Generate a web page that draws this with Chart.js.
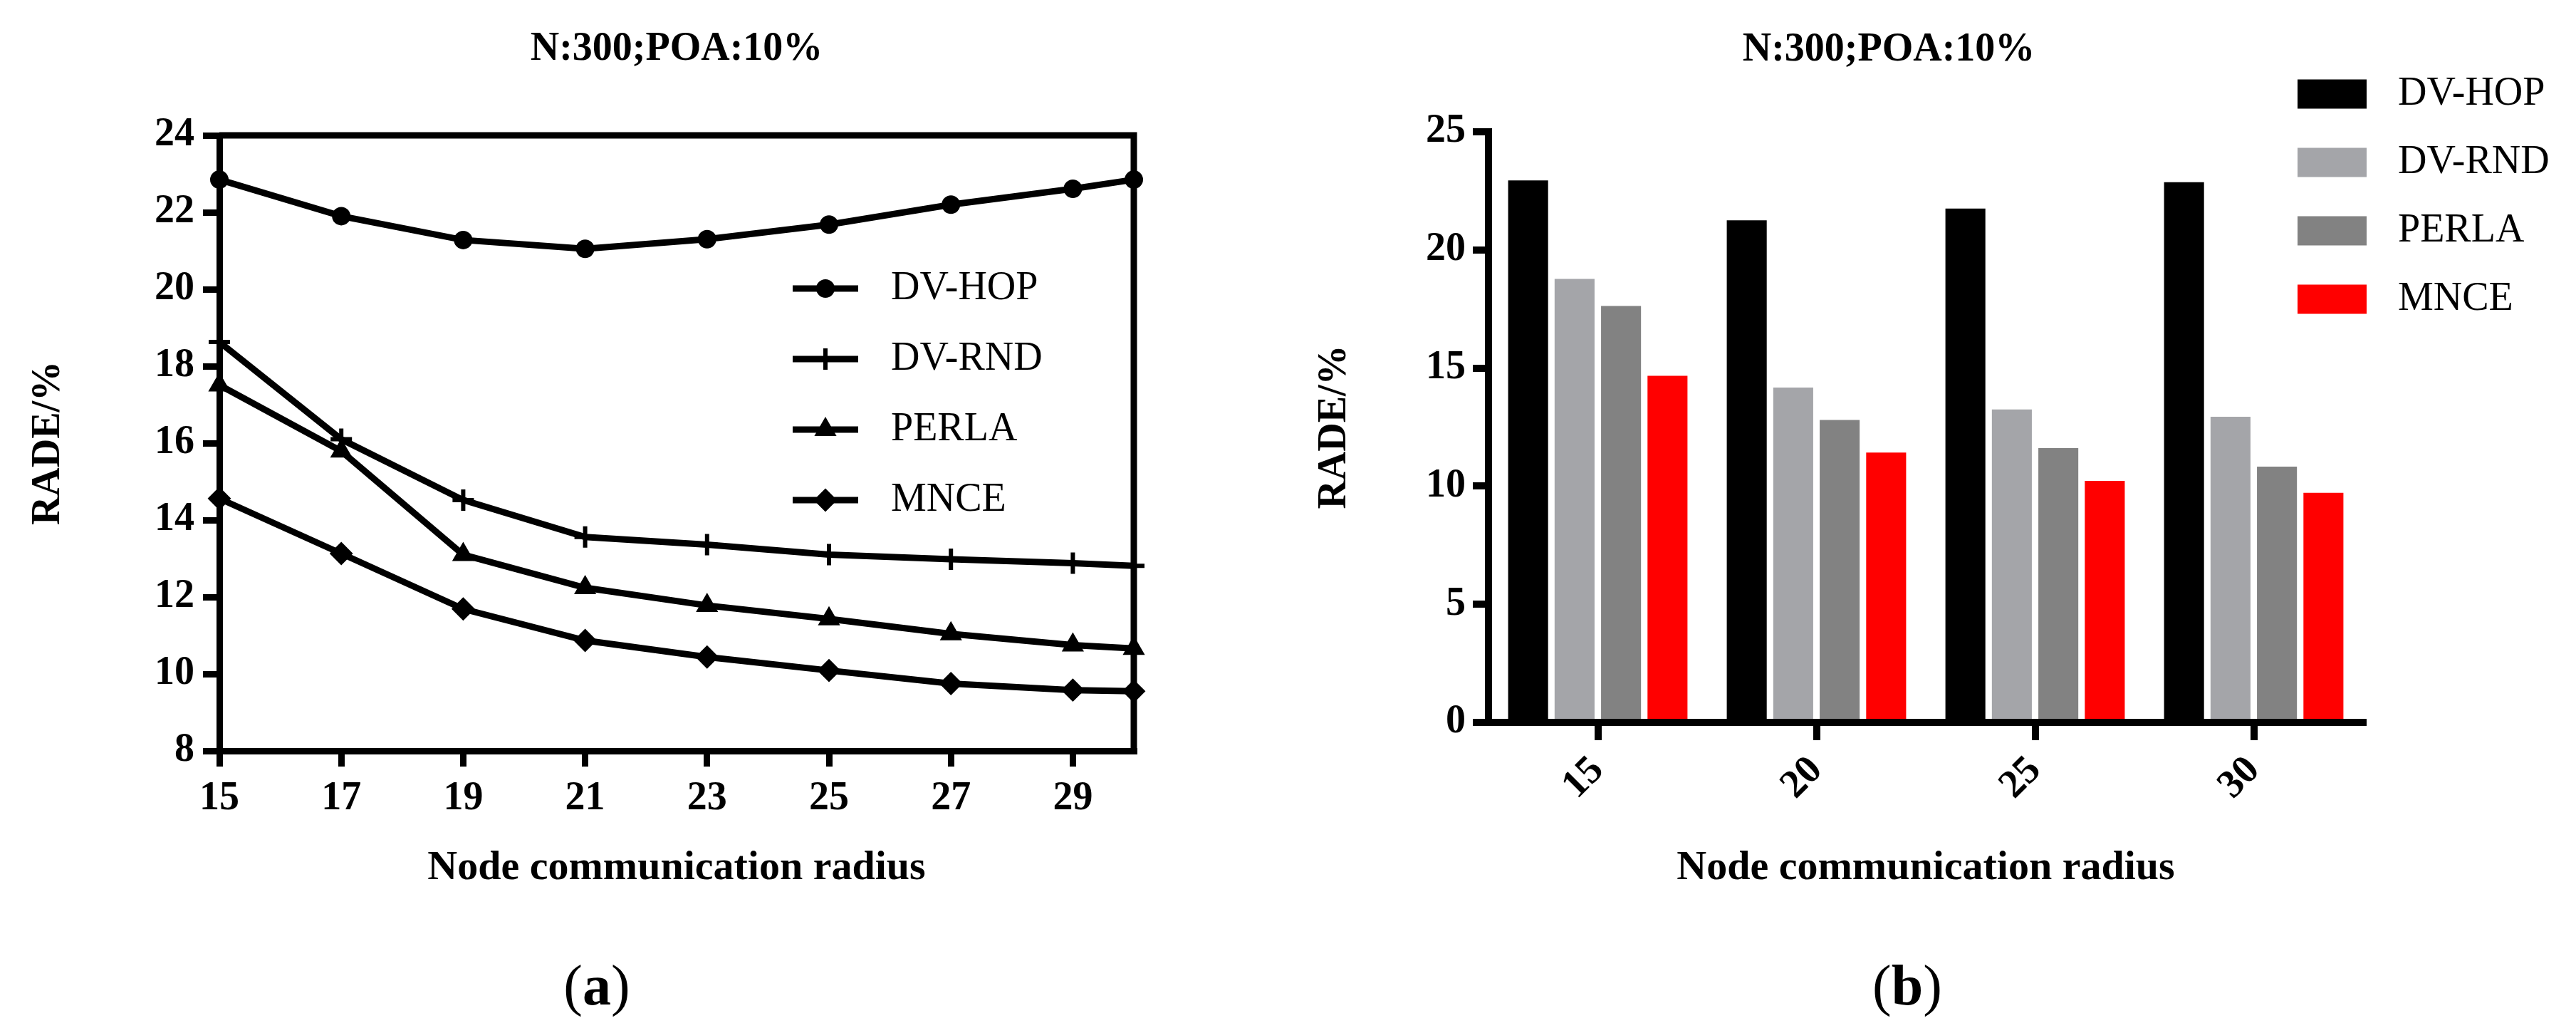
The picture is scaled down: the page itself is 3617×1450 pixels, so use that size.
<!DOCTYPE html>
<html>
<head>
<meta charset="utf-8">
<script src="https://cdn.jsdelivr.net/npm/chart.js"></script>
<style>
  html, body { margin: 0; padding: 0; background: #fff; }
  body { width: 3617px; height: 1450px; position: relative; overflow: hidden; }
  canvas { position: absolute; top: 0; }
  #lineChart { left: 0; width: 1800px; height: 1450px; }
  #barChart { left: 1800px; width: 1817px; height: 1450px; }
  .warm { position: absolute; left: -9999px; font-family: 'Liberation Serif'; }
</style>
</head>
<body>
<span class="warm">N</span><span class="warm" style="font-weight:bold">N</span>
<canvas id="lineChart" width="1800" height="1450"></canvas>
<canvas id="barChart" width="1817" height="1450"></canvas>
<script>
const series = ['DV-HOP', 'DV-RND', 'PERLA', 'MNCE'];

// (a) line chart
const radiusLine = [15, 17, 19, 21, 23, 25, 27, 29, 30];
const dvHopLine = [22.85, 21.9, 21.28, 21.05, 21.3, 21.68, 22.2, 22.61, 22.85];
const dvRndLine = [18.63, 16.1, 14.52, 13.56, 13.36, 13.1, 12.98, 12.88, 12.81];
const perlaLine = [17.51, 15.79, 13.1, 12.24, 11.78, 11.43, 11.04, 10.75, 10.66];
const mnceLine = [14.56, 13.13, 11.69, 10.87, 10.44, 10.09, 9.75, 9.58, 9.55];
const lineXTicks = [15, 17, 19, 21, 23, 25, 27, 29];

// (b) bar chart
const radiusBar = ['15', '20', '25', '30'];
const dvHopBar = [22.94, 21.25, 21.75, 22.87];
const dvRndBar = [18.77, 14.17, 13.25, 12.94];
const perlaBar = [17.63, 12.8, 11.61, 10.83];
const mnceBar = [14.67, 11.42, 10.22, 9.72];

const chartTitle = 'N:300;POA:10%';
const xTitle = 'Node communication radius';
const yTitle = 'RADE/%';

const serif = "'Liberation Serif', 'Times New Roman', serif";
const markers = ['circle', 'cross', 'triangle', 'rectRot'];
const markerSize = [12, 15, 16, 15];
const markerBorder = [2, 6, 2, 2];
const barColors = ['#000000', '#a4a5a9', '#828282', '#ff0000'];

Chart.defaults.color = '#000';
Chart.defaults.font.family = serif;

// title + "(a)" caption drawn on the canvas
const panelText = {
  id: 'panelText',
  afterDraw(chart, args, opts) {
    const ctx = chart.ctx;
    ctx.save();
    ctx.fillStyle = '#000';
    ctx.textAlign = 'center';
    ctx.textBaseline = 'middle';
    ctx.font = 'bold 56px ' + serif;
    ctx.fillText(opts.title, opts.titleX, opts.titleY);

    // caption: "(" normal, letter bold, ")" normal
    ctx.textAlign = 'left';
    ctx.textBaseline = 'alphabetic';
    const normal = '80px ' + serif, bold = 'bold 80px ' + serif;
    ctx.font = normal;
    const wp = ctx.measureText('(').width;
    ctx.font = bold;
    const wl = ctx.measureText(opts.letter).width;
    let x = opts.capX - (2 * wp + wl) / 2;
    ctx.font = normal;
    ctx.fillText('(', x, opts.capY);
    ctx.font = bold;
    ctx.fillText(opts.letter, x + wp, opts.capY);
    ctx.font = normal;
    ctx.fillText(')', x + wp + wl, opts.capY);
    ctx.restore();
  }
};

// top and right edge of the box around the line chart
const frame = {
  id: 'frame',
  beforeDatasetsDraw(chart, args, opts) {
    if (!opts.show) return;
    const {ctx, chartArea: a} = chart;
    ctx.save();
    ctx.strokeStyle = '#000';
    ctx.lineWidth = 9;
    ctx.beginPath();
    ctx.moveTo(a.left, a.top);
    ctx.lineTo(a.right, a.top);
    ctx.lineTo(a.right, a.bottom);
    ctx.stroke();
    ctx.restore();
  }
};

const lineLegend = {
  id: 'lineLegend',
  afterDraw(chart, args, opts) {
    const ctx = chart.ctx;
    chart.data.datasets.forEach((ds, i) => {
      const y = opts.y0 + i * opts.gap;
      ctx.save();
      ctx.strokeStyle = '#000';
      ctx.fillStyle = '#000';
      ctx.lineWidth = 9;
      ctx.beginPath();
      ctx.moveTo(opts.x0, y);
      ctx.lineTo(opts.x0 + opts.len, y);
      ctx.stroke();
      ctx.lineWidth = ds.pointBorderWidth;
      Chart.helpers.drawPoint(ctx, {
        pointStyle: ds.pointStyle, radius: ds.pointRadius,
        borderWidth: ds.pointBorderWidth, rotation: 0
      }, opts.x0 + opts.len / 2, y);
      ctx.font = '56px ' + serif;
      ctx.textAlign = 'left';
      ctx.textBaseline = 'middle';
      ctx.fillText(ds.label, opts.textX, y);
      ctx.restore();
    });
  }
};

const barLegend = {
  id: 'barLegend',
  afterDraw(chart, args, opts) {
    const ctx = chart.ctx;
    chart.data.datasets.forEach((ds, i) => {
      const y = opts.y0 + i * opts.gap;
      ctx.save();
      ctx.fillStyle = ds.backgroundColor;
      ctx.fillRect(opts.x0, y - opts.h / 2, opts.w, opts.h);
      ctx.fillStyle = '#000';
      ctx.font = '56px ' + serif;
      ctx.textAlign = 'left';
      ctx.textBaseline = 'middle';
      ctx.fillText(ds.label, opts.textX, y);
      ctx.restore();
    });
  }
};

function axisGrid(len, width) {
  return { drawOnChartArea: false, drawTicks: true, tickLength: len, lineWidth: width, color: '#000' };
}

const lineSeries = [dvHopLine, dvRndLine, perlaLine, mnceLine];
const barSeries = [dvHopBar, dvRndBar, perlaBar, mnceBar];

function drawCharts() {
  new Chart(document.getElementById('lineChart'), {
    type: 'line',
    data: {
      datasets: series.map((name, i) => ({
        label: name,
        data: radiusLine.map((r, j) => ({ x: r, y: lineSeries[i][j] })),
        borderColor: '#000',
        borderWidth: 9,
        pointStyle: markers[i],
        pointRadius: markerSize[i],
        pointBorderWidth: markerBorder[i],
        pointBackgroundColor: '#000',
        pointBorderColor: '#000',
        clip: false
      }))
    },
    options: {
      responsive: false,
      animation: false,
      devicePixelRatio: 1,
      layout: { padding: { left: 0, top: 190, right: 208, bottom: 0 } },
      plugins: {
        legend: { display: false },
        tooltip: { enabled: false },
        panelText: { title: chartTitle, titleX: 950, titleY: 70, letter: 'a', capX: 838, capY: 1410 },
        frame: { show: true },
        lineLegend: { x0: 1113, len: 92, textX: 1251, y0: 405, gap: 99 }
      },
      scales: {
        x: {
          type: 'linear', min: 15, max: 30,
          afterBuildTicks: s => { s.ticks = lineXTicks.map(v => ({ value: v })); },
          afterFit: s => { s.height = 396; },
          ticks: { font: { size: 56, weight: 'bold' }, padding: 12 },
          grid: axisGrid(22, 9),
          border: { display: true, color: '#000', width: 9 },
          title: { display: true, text: xTitle, font: { size: 58, weight: 'bold' }, padding: { top: 0, bottom: 196 } }
        },
        y: {
          min: 8, max: 24,
          afterFit: s => { s.width = 308; },
          ticks: { stepSize: 2, font: { size: 56, weight: 'bold' }, padding: 12 },
          grid: axisGrid(23, 9),
          border: { display: true, color: '#000', width: 9 },
          title: { display: true, text: yTitle, font: { size: 56, weight: 'bold' }, padding: { top: 35, bottom: 0 } }
        }
      }
    },
    plugins: [frame, panelText, lineLegend]
  });

  new Chart(document.getElementById('barChart'), {
    type: 'bar',
    data: {
      labels: radiusBar,
      datasets: series.map((name, i) => ({
        label: name,
        data: barSeries[i],
        backgroundColor: barColors[i],
        borderWidth: 0,
        categoryPercentage: 0.85,
        barPercentage: 0.86
      }))
    },
    options: {
      responsive: false,
      animation: false,
      devicePixelRatio: 1,
      layout: { padding: { left: 0, top: 185, right: 299, bottom: 0 } },
      plugins: {
        legend: { display: false },
        tooltip: { enabled: false },
        panelText: { title: chartTitle, titleX: 852, titleY: 71, letter: 'b', capX: 878, capY: 1410 },
        barLegend: { x0: 1426, w: 97, h: 41, textX: 1567, y0: 132, gap: 96 }
      },
      scales: {
        x: {
          afterFit: s => { s.height = 436; },
          ticks: { font: { size: 56, weight: 'bold' }, minRotation: 45, maxRotation: 45, padding: 10 },
          grid: Object.assign(axisGrid(25, 10), { offset: false }),
          border: { display: true, color: '#000', width: 10 },
          title: { display: true, text: xTitle, font: { size: 58, weight: 'bold' }, padding: { top: 0, bottom: 196 } }
        },
        y: {
          min: 0, max: 25,
          afterFit: s => { s.width = 290; },
          ticks: { stepSize: 5, font: { size: 56, weight: 'bold' }, padding: 10 },
          grid: axisGrid(22, 10),
          border: { display: true, color: '#000', width: 10 },
          title: { display: true, text: yTitle, font: { size: 56, weight: 'bold' }, padding: { top: 41, bottom: 0 } }
        }
      }
    },
    plugins: [panelText, barLegend]
  });
}

// make sure the serif face is ready before the canvas text is drawn
Promise.all([
  document.fonts.load("56px 'Liberation Serif'"),
  document.fonts.load("bold 56px 'Liberation Serif'")
]).then(drawCharts, drawCharts);
</script>
</body>
</html>
